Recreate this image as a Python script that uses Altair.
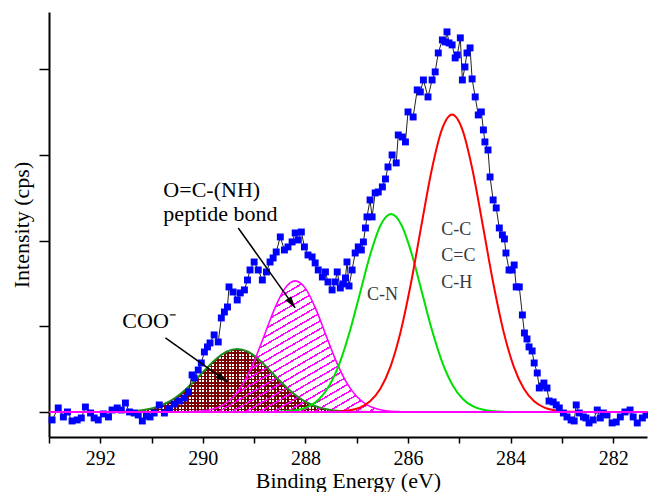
import altair as alt
import pandas as pd

FONT = "Liberation Serif"

# ---------------- measured spectrum (binding energy, intensity) ----------------
be_pts = [
    292.94, 292.82, 292.72, 292.64, 292.55, 292.45, 292.37, 292.29, 292.19, 292.12,
    292.04, 291.94, 291.84, 291.77, 291.67, 291.59, 291.51, 291.43, 291.34, 291.26,
    291.18, 291.10, 291.03, 290.95, 290.85, 290.75, 290.65, 290.56, 290.46, 290.36,
    290.28, 290.21, 290.17, 290.09, 290.03, 289.97, 289.91, 289.86, 289.78, 289.70,
    289.64, 289.58, 289.52, 289.49, 289.41, 289.33, 289.27, 289.19, 289.13, 289.08,
    289.00, 288.92, 288.84, 288.76, 288.69, 288.63, 288.57, 288.49, 288.41, 288.34,
    288.26, 288.20, 288.14, 288.08, 288.02, 287.95, 287.87, 287.81, 287.75, 287.67,
    287.61, 287.56, 287.48, 287.42, 287.38, 287.32, 287.26, 287.22, 287.19, 287.15,
    287.09, 287.03, 286.97, 286.91, 286.87, 286.83, 286.80, 286.74, 286.70, 286.64,
    286.58, 286.50, 286.44, 286.39, 286.31, 286.23, 286.19, 286.11, 286.05, 286.00,
    285.90, 285.82, 285.76, 285.70, 285.61, 285.53, 285.47, 285.41, 285.33, 285.27,
    285.24, 285.20, 285.14, 285.08, 285.04, 284.98, 284.94, 284.89, 284.85, 284.79,
    284.75, 284.69, 284.63, 284.57, 284.53, 284.50, 284.44, 284.40, 284.34, 284.28,
    284.22, 284.16, 284.12, 284.09, 284.03, 283.97, 283.93, 283.89, 283.83, 283.77,
    283.73, 283.68, 283.64, 283.58, 283.54, 283.48, 283.44, 283.38, 283.35, 283.29,
    283.25, 283.17, 283.11, 283.05, 282.97, 282.90, 282.82, 282.76, 282.72, 282.66,
    282.58, 282.53, 282.47, 282.39, 282.31, 282.25, 282.19, 282.12, 282.02, 281.94,
    281.86, 281.77, 281.67, 281.61, 281.53, 281.43, 281.36,
]
int_pts = [
    -93, 47, -58, 0, -105, -93, -70, 58, -12, -70,
    -93, -23, -58, 23, 47, 23, 105, 0, -12, -35,
    -105, -47, -58, -12, 82, -12, 35, 93, 128, 163,
    233, 432, 397, 490, 572, 700, 759, 805, 899, 817,
    1097, 1167, 1225, 1459, 1400, 1307, 1389, 1424, 1540, 1657,
    1750, 1657, 1540, 1634, 1750, 1797, 1867, 2042, 1890, 1926,
    1984, 2089, 2007, 2100, 1926, 1832, 1809, 1739, 1657, 1575,
    1634, 1517, 1424, 1517, 1634, 1447, 1494, 1564, 1750, 1470,
    1657, 1855, 1926, 1890, 1984, 2147, 2276, 2474, 2276, 2556,
    2567, 2626, 2719, 2859, 2999, 2906, 3232, 3209, 3151, 3501,
    3442, 3758, 3734, 3874, 3676, 3874, 3968, 4189, 4341, 4318,
    4435, 4306, 4283, 4131, 4166, 4365, 3874, 4026, 4189, 4248,
    3886, 3676, 3466, 3501, 3291, 3151, 3057, 2742, 2474, 2381,
    2147, 2066, 2019, 1855, 1657, 1657, 1715, 1459, 1459, 1132,
    922, 852, 759, 712, 572, 455, 280, 303, 338, 280,
    128, 117, 82, 47, -12, -58, -93, -105, 82, -12,
    -58, -70, -128, -93, 23, -70, -12, -35, -128, -117,
    -58, 0, 23, -58, -128, -70, -35,
]

# ---------------- fitted components ----------------
cc_be = [287.54, 287.34, 287.14, 286.94, 286.74, 286.54, 286.34, 286.14, 285.94, 285.74,
         285.54, 285.34, 285.14, 284.94, 284.74, 284.54, 284.34, 284.14, 283.94, 283.74,
         283.54, 283.34, 283.14, 282.94, 282.74]
cc_val = [2, 6, 19, 51, 124, 271, 533, 946, 1510, 2173,
          2818, 3294, 3470, 3294, 2818, 2173, 1510, 946, 533, 271,
          124, 51, 19, 6, 2]

cn_be = [288.53, 288.33, 288.13, 287.93, 287.73, 287.53, 287.33, 287.13, 286.93, 286.73,
         286.53, 286.33, 286.13, 285.93, 285.73, 285.53, 285.33, 285.13, 284.93, 284.73,
         284.53, 284.33, 284.13]
cn_val = [3, 9, 26, 66, 152, 313, 576, 950, 1401, 1850,
          2185, 2310, 2185, 1850, 1401, 950, 576, 313, 152, 66,
          26, 9, 3]

pep_be = [290.4, 290.2, 290.0, 289.8, 289.6, 289.4, 289.2, 289.0, 288.8, 288.6,
          288.4, 288.2, 288.0, 287.8, 287.6, 287.4, 287.2, 287.0, 286.8, 286.6,
          286.4, 286.2, 286.0]
pep_val = [1, 4, 12, 34, 83, 180, 346, 591, 896, 1206,
           1442, 1530, 1442, 1206, 896, 591, 346, 180, 83, 34,
           12, 4, 1]

coo_be = [291.93, 291.73, 291.53, 291.33, 291.13, 290.93, 290.73, 290.53, 290.33, 290.13,
          289.93, 289.73, 289.53, 289.33, 289.13, 288.93, 288.73, 288.53, 288.33, 288.13,
          287.93, 287.73, 287.53, 287.33, 287.13, 286.93, 286.73]
coo_val = [1, 2, 5, 12, 27, 54, 99, 169, 265, 382,
           509, 624, 706, 735, 706, 624, 509, 382, 265, 169,
           99, 54, 27, 12, 5, 2, 1]

# ---------------- annotations ----------------
big_labels = ["O=C-(NH)", "peptide bond", "COO\u207b"]
big_be = [290.77, 290.77, 291.57]
big_val = [2591, 2311, 1062]

peak_labels = ["C-N", "C-C", "C=C", "C-H"]
peak_be = [286.80, 285.35, 285.35, 285.35]
peak_val = [1365, 2124, 1820, 1505]

arrow_id = ["pep", "pep", "coo", "coo"]
arrow_be = [289.31, 288.20, 290.73, 289.52]
arrow_val = [2147, 1214, 864, 350]
head_be = [288.20, 289.52]
head_val = [1214, 350]
head_ang = [144.5, 125.4]

# ---------------- tables ----------------
pts = pd.DataFrame({"be": be_pts, "val": int_pts})
cc = pd.DataFrame({"be": cc_be, "val": cc_val})
cn = pd.DataFrame({"be": cn_be, "val": cn_val})
pep = pd.DataFrame({"be": pep_be, "val": pep_val})
coo = pd.DataFrame({"be": coo_be, "val": coo_val})
big = pd.DataFrame({"be": big_be, "val": big_val, "lab": big_labels})
peaks = pd.DataFrame({"be": peak_be, "val": peak_val, "lab": peak_labels})
arrows = pd.DataFrame({"be": arrow_be, "val": arrow_val, "id": arrow_id})
heads = pd.DataFrame({"be": head_be, "val": head_val, "ang": head_ang})

CLEAR = "rgba(255,255,255,0)"


def stripes(n, color, frac, x2, y2):
    stops = []
    for k in range(n):
        a = round(k / n, 5)
        b = round((k + frac) / n, 5)
        c = round((k + 1) / n, 5)
        stops += [
            {"offset": a, "color": color},
            {"offset": b, "color": color},
            {"offset": b, "color": CLEAR},
            {"offset": c, "color": CLEAR},
        ]
    return {"gradient": "linear", "x1": 0, "y1": 0, "x2": x2, "y2": y2, "stops": stops}


x_scale = alt.Scale(domain=[281.34, 293.0], reverse=True, nice=False, zero=False)
y_scale = alt.Scale(domain=[-292, 4667], nice=False, zero=False)

X = alt.X(
    "be:Q",
    scale=x_scale,
    axis=alt.Axis(
        values=list(range(282, 294)),
        labelExpr="datum.value % 2 == 0 ? datum.label : ''",
        title="Binding Energy (eV)",
        tickSize=6,
        labelPadding=5,
        titlePadding=2,
    ),
)
Y = alt.Y(
    "val:Q",
    scale=y_scale,
    axis=alt.Axis(
        values=[0, 1000, 2000, 3000, 4000],
        labels=False,
        tickSize=10,
        title="Intensity (cps)",
        titlePadding=5,
    ),
)
Y2 = alt.Y2(datum=0)

coo_v = alt.Chart(coo).mark_area(
    interpolate="monotone", fill=stripes(80, "#7b0000", 0.5, 1, 0)
).encode(x=X, y=Y, y2=Y2)
coo_h = alt.Chart(coo).mark_area(
    interpolate="monotone", fill=stripes(19, "#7b0000", 0.5, 0, 1)
).encode(x=X, y=Y, y2=Y2)
pep_fill = alt.Chart(pep).mark_area(
    interpolate="monotone", fill=stripes(33, "#ff00ff", 0.22, 1, 1)
).encode(x=X, y=Y, y2=Y2)

coo_line = alt.Chart(coo).mark_line(interpolate="monotone", color="#1e8c1e", strokeWidth=2).encode(x=X, y=Y)
pep_line = alt.Chart(pep).mark_line(interpolate="monotone", color="#ff00ff", strokeWidth=1.6).encode(x=X, y=Y)
cn_line = alt.Chart(cn).mark_line(interpolate="monotone", color="#00e000", strokeWidth=2).encode(x=X, y=Y)
cc_line = alt.Chart(cc).mark_line(interpolate="monotone", color="#ff0000", strokeWidth=2).encode(x=X, y=Y)

data_line = alt.Chart(pts).mark_line(color="#222222", strokeWidth=1).encode(x=X, y=Y)
data_pts = alt.Chart(pts).mark_point(
    shape="square", filled=True, color="#0000ff", size=48, opacity=1
).encode(x=X, y=Y)

baseline = alt.Chart(pts).mark_rule(color="#ff00ff", strokeWidth=2).encode(y=alt.Y(datum=0, scale=y_scale))

arrow_lines = alt.Chart(arrows).mark_line(color="black", strokeWidth=1.5).encode(
    x=X, y=Y, detail="id:N"
)
arrow_heads = alt.Chart(heads).mark_point(
    shape="M0,0L0.6,2L-0.6,2Z", filled=True, color="black", size=140, opacity=1
).encode(x=X, y=Y, angle=alt.Angle("ang:Q", scale=None))

big_text = alt.Chart(big).mark_text(
    font=FONT, fontSize=22, align="left", baseline="middle", color="black"
).encode(x=X, y=Y, text="lab:N")
peak_text = alt.Chart(peaks).mark_text(
    font=FONT, fontSize=18, align="left", baseline="middle", color="#3a3a3a"
).encode(x=X, y=Y, text="lab:N")

chart = (
    alt.layer(
        coo_v, coo_h, pep_fill, coo_line, pep_line, cn_line, cc_line,
        data_line, data_pts, baseline, arrow_lines, arrow_heads, big_text, peak_text,
    )
    .properties(
        width=598,
        height=425,
        autosize=alt.AutoSizeParams(type="none"),
        padding={"left": 49, "top": 12, "right": 1, "bottom": 55},
        background="white",
    )
    .configure_view(stroke=None)
    .configure_axis(
        grid=False,
        domainColor="black",
        domainWidth=2,
        tickColor="black",
        tickWidth=1.5,
        labelFont=FONT,
        labelFontSize=20,
        labelColor="black",
        titleFont=FONT,
        titleFontSize=22,
        titleFontWeight="normal",
        titleColor="black",
    )
)

chart.save("out.html", embed_options={"renderer": "svg", "actions": False})
